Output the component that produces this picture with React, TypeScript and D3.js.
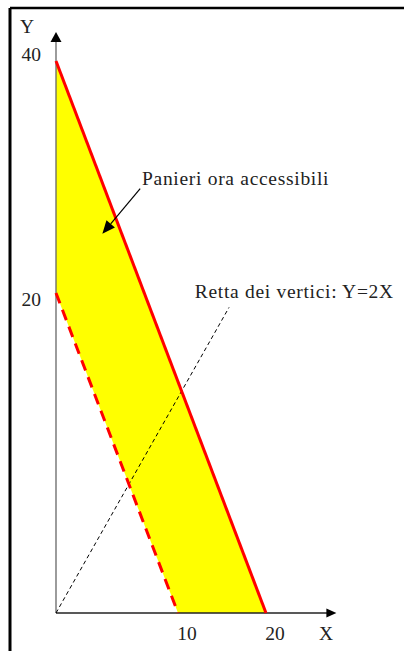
import React from "react";
import * as d3 from "d3";

// Budget lines: Y = 40 - 2X (new, solid) and Y = 20 - 2X (old, dashed)
const newBudget = [
  { x: 0, y: 40 },
  { x: 20, y: 0 },
];
const oldBudget = [
  { x: 0, y: 20 },
  { x: 10, y: 0 },
];
// Ray of the vertices Y = 2X (schematic segment)
const vertexRay = [
  { x: 0, y: 0 },
  { x: 15.8, y: 19.1 },
];
const xTicks = [10, 20];
const yTicks = [20, 40];
const xAxisEnd = 28;
const yAxisEnd = 42.5;

const areaLabel = "Panieri ora accessibili";
const rayLabel = "Retta dei vertici: Y=2X";
const areaArrow = [
  { x: 6.9, y: 29.0 },
  { x: 3.8, y: 25.1 },
];
const areaLabelPos = { x: 7.05, y: 29.3 };
const rayLabelPos = { x: 11.9, y: 19.7 };

const W = 404;
const H = 651;
const FONT = "'Liberation Serif', 'Times New Roman', serif";

export default function App() {
  // Schematic (non-uniform) axes: piecewise linear scales
  const x = d3.scaleLinear().domain([0, 10, 20]).range([56, 178, 266]);
  const y = d3.scaleLinear().domain([0, 20, 40]).range([613, 293, 61]);

  const line = d3
    .line<{ x: number; y: number }>()
    .x((d) => x(d.x))
    .y((d) => y(d.y));

  const band = [newBudget[0], newBudget[1], oldBudget[1], oldBudget[0]];

  const ox = x(0);
  const oy = y(0);
  const yTop = y(yAxisEnd);
  const xRight = x(xAxisEnd);

  // annotation arrow
  const [a0, a1] = areaArrow;
  const ax0 = x(a0.x), ay0 = y(a0.y), ax1 = x(a1.x), ay1 = y(a1.y);
  const ang = Math.atan2(ay1 - ay0, ax1 - ax0);
  const hl = 13, hw = 5.5;
  const bx = ax1 - hl * Math.cos(ang), by = ay1 - hl * Math.sin(ang);
  const head = [
    [ax1, ay1],
    [bx + hw * Math.sin(ang), by - hw * Math.cos(ang)],
    [bx - hw * Math.sin(ang), by + hw * Math.cos(ang)],
  ];

  const textStyle = { fontFamily: FONT };

  return (
    <svg
      width={W}
      height={H}
      style={{ position: "absolute", left: 0, top: 0, display: "block", background: "#fff" }}
    >
      {/* frame */}
      <line x1={10} y1={8} x2={W} y2={8} stroke="#000" strokeWidth={2.5} />
      <line x1={10} y1={8} x2={10} y2={H} stroke="#000" strokeWidth={3} />

      {/* accessible band */}
      <path d={line(band) + "Z"} fill="#ffff00" stroke="none" />

      {/* axes */}
      <line x1={ox} y1={oy} x2={ox} y2={yTop + 9} stroke="#666" strokeWidth={1.3} />
      <path d={`M${ox},${yTop} L${ox - 5.5},${yTop + 10} L${ox + 5.5},${yTop + 10} Z`} fill="#000" />
      <line x1={ox} y1={oy} x2={xRight - 9} y2={oy} stroke="#222" strokeWidth={1.5} />
      <path d={`M${xRight},${oy} L${xRight - 10},${oy - 4.5} L${xRight - 10},${oy + 4.5} Z`} fill="#000" />

      {/* vertex ray */}
      <path d={line(vertexRay) ?? ""} fill="none" stroke="#000" strokeWidth={1} strokeDasharray="4,3" />

      {/* budget lines */}
      <path d={line(oldBudget) ?? ""} fill="none" stroke="#ff0000" strokeWidth={3} strokeDasharray="11,7" />
      <path d={line(newBudget) ?? ""} fill="none" stroke="#ff0000" strokeWidth={3} />

      {/* tick labels */}
      {yTicks.map((t) => (
        <text key={"y" + t} x={41} y={y(t)} dy={t === 40 ? 0 : 13} textAnchor="end" fontSize={19.5} fill="#222" style={textStyle}>
          {t}
        </text>
      ))}
      {xTicks.map((t) => (
        <text key={"x" + t} x={x(t) + 9} y={640} textAnchor="middle" fontSize={19.5} fill="#222" style={textStyle}>
          {t}
        </text>
      ))}
      <text x={20} y={33} fontSize={19.5} fill="#222" style={textStyle}>Y</text>
      <text x={319} y={640} fontSize={19.5} fill="#222" style={textStyle}>X</text>

      {/* annotations */}
      <line x1={ax0} y1={ay0} x2={bx} y2={by} stroke="#000" strokeWidth={1.2} />
      <path d={`M${head.map((p) => p.join(",")).join("L")}Z`} fill="#000" />
      <text x={x(areaLabelPos.x)} y={y(areaLabelPos.y)} fontSize={19.5} letterSpacing={0.7} fill="#222" style={textStyle}>
        {areaLabel}
      </text>
      <text x={x(rayLabelPos.x)} y={y(rayLabelPos.y)} fontSize={19.5} letterSpacing={0.7} fill="#222" style={textStyle}>
        {rayLabel}
      </text>
    </svg>
  );
}
